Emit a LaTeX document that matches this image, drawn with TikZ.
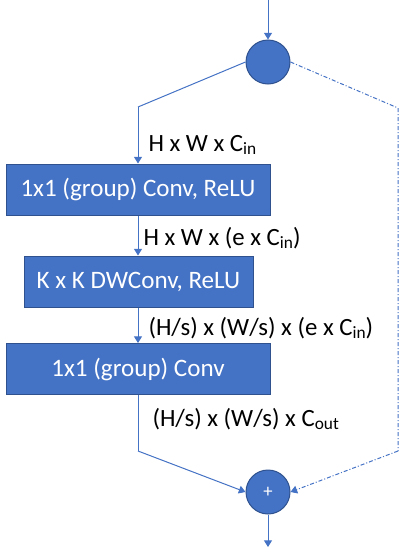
\documentclass[tikz,border=0pt]{standalone}
\usepackage{fontspec}
\setmainfont{Carlito}
\usetikzlibrary{arrows.meta}
\definecolor{blockblue}{RGB}{68,114,196}
\definecolor{blockedge}{RGB}{47,82,143}
\newcommand{\chsub}[1]{\raisebox{-0.3ex}{\fontsize{13}{15}\selectfont #1}}
\tikzset{every picture/.style={line width=0.75pt}}

\begin{document}
\begin{tikzpicture}[x=0.75pt,y=0.75pt,yscale=-1,xscale=1,
  layer/.style={draw=blockedge, fill=blockblue, text=white, inner sep=0pt, minimum height=38.25pt, font=\fontsize{18.8}{22}\selectfont},
  junction/.style={circle, draw=blockedge, fill=blockblue, text=white, inner sep=0pt, minimum size=33pt, font=\fontsize{14}{16}\selectfont},
  flow/.style={draw=blockblue, line width=0.75pt},
  arr/.style={flow, -{Triangle[length=5pt,width=6pt]}},
  skip/.style={flow, dash pattern={on 3pt off 1.5pt on 0.75pt off 1.5pt}},
  shape label/.style={anchor=base west, inner sep=0pt, font=\fontsize{18.6}{22}\selectfont}]
\useasboundingbox (0,0) rectangle (404,550);

%Shape: Circle [id:split]
\node [junction] (split) at (268,62) {};
%Shape: Rectangle [id:conv1]
\node [layer, minimum width=198pt] (conv1) at (138,189.5) {1x1 (group) Conv, ReLU};
%Shape: Rectangle [id:dwconv]
\node [layer, minimum width=171.75pt] (dwconv) at (138.5,281.5) {K x K DWConv, ReLU};
%Shape: Rectangle [id:conv2]
\node [layer, minimum width=198pt] (conv2) at (138,369) {1x1 (group) Conv};
%Shape: Circle [id:add]
\node [junction] (add) at (268,492) {+};

\coordinate (in) at (268,0);
\coordinate (out) at (268,547);
\coordinate (bendA) at (138,107);
\coordinate (bendB) at (138,451);
\coordinate (skipA) at (398,108);
\coordinate (skipB) at (398,451);

%Straight Lines
\draw [arr] (in) -- (split.north);
\draw [flow] (split.west) -- (bendA);
\draw [arr] (bendA) -- (conv1.north);
\draw [arr] (conv1.south) -- (dwconv.north -| conv1.south);
\draw [arr] (dwconv.south -| conv2.north) -- (conv2.north);
\draw [flow] (conv2.south) -- (bendB);
\draw [arr] (bendB) -- (add.west);
\draw [arr] (add.south) -- (out);
%Shortcut (dash dot)
\draw [skip] (split.east) -- (skipA) -- (skipB);
\draw [skip, -{Triangle[length=5pt,width=6pt]}] (skipB) -- (add.east);

% Text Node
\node [shape label] (dimA) at (148,151) {H x W x C\chsub{in}};
% Text Node
\node [shape label] (dimB) at (143,245) {H x W x (e x C\chsub{in})};
% Text Node
\node [shape label] (dimC) at (148,335) {(H/s) x (W/s) x (e x C\chsub{in})};
% Text Node
\node [shape label] (dimD) at (152,426) {(H/s) x (W/s) x C\chsub{out}};

\end{tikzpicture}
\end{document}
